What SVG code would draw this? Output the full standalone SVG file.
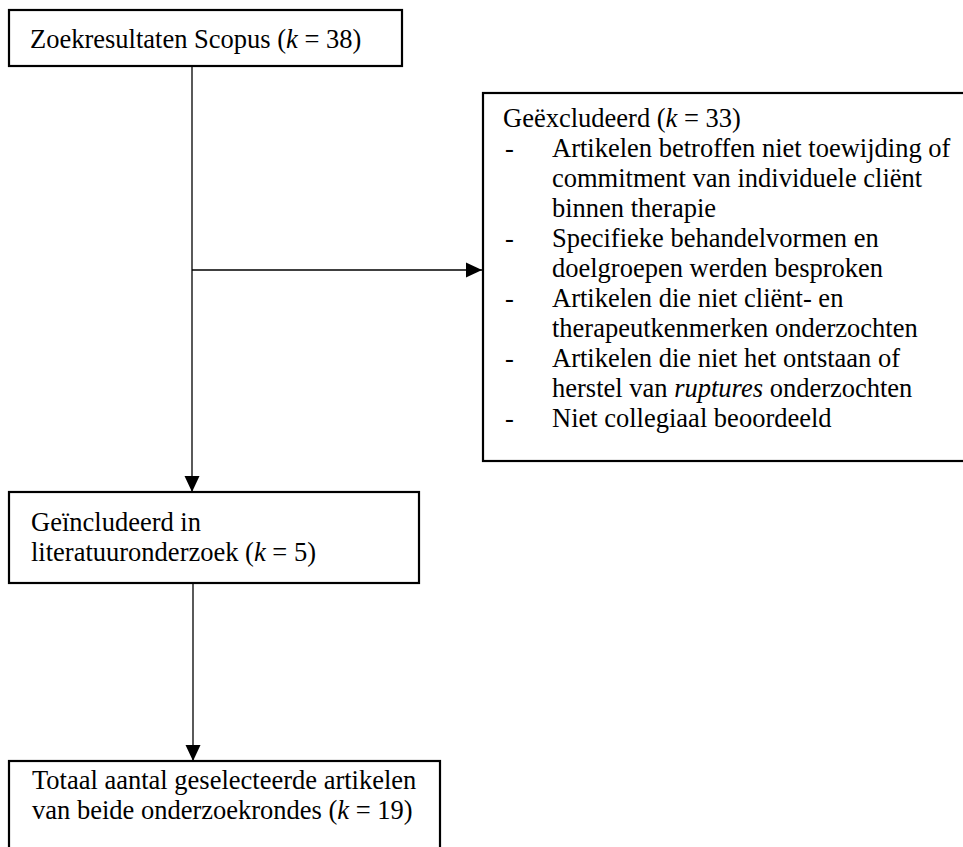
<svg xmlns="http://www.w3.org/2000/svg" width="963" height="847" viewBox="0 0 963 847">
<style>
.box{fill:#fff;stroke:#000;stroke-width:2.2}
.t{font-family:"Liberation Serif","Times New Roman",serif;font-size:26.5px;fill:#000}
.i{font-style:italic}
.ln{stroke:#000;stroke-width:1.3;fill:none}
</style>
<defs>
<marker id="ah" markerUnits="userSpaceOnUse" markerWidth="16" markerHeight="16" viewBox="0 0 16 16" refX="16" refY="8" orient="auto">
<path d="M0,0.5 L16,8 L0,15.5 Z" fill="#000"/>
</marker>
</defs>
<g id="connectors">
<line class="ln" x1="192" y1="66" x2="192" y2="492" marker-end="url(#ah)"/>
<line class="ln" x1="192" y1="270" x2="482" y2="270" marker-end="url(#ah)"/>
<line class="ln" x1="193" y1="583" x2="193" y2="761" marker-end="url(#ah)"/>
</g>
<g id="scopus">
<rect class="box" x="9" y="10" width="393" height="56"/>
<text class="t" x="30" y="48">Zoekresultaten Scopus (<tspan class="i">k</tspan> = 38)</text>
</g>
<g id="excluded">
<rect class="box" x="483" y="93" width="490" height="368"/>
<text class="t" x="503" y="127">Geëxcludeerd (<tspan class="i">k</tspan> = 33)</text>
<text class="t" x="505" y="157">-</text>
<text class="t" x="552" y="157">Artikelen betroffen niet toewijding of</text>
<text class="t" x="552" y="187">commitment van individuele cliënt</text>
<text class="t" x="552" y="217">binnen therapie</text>
<text class="t" x="505" y="247">-</text>
<text class="t" x="552" y="247">Specifieke behandelvormen en</text>
<text class="t" x="552" y="277">doelgroepen werden besproken</text>
<text class="t" x="505" y="307">-</text>
<text class="t" x="552" y="307">Artikelen die niet cliënt- en</text>
<text class="t" x="552" y="337">therapeutkenmerken onderzochten</text>
<text class="t" x="505" y="367">-</text>
<text class="t" x="552" y="367">Artikelen die niet het ontstaan of</text>
<text class="t" x="552" y="397">herstel van <tspan class="i">ruptures</tspan> onderzochten</text>
<text class="t" x="505" y="427">-</text>
<text class="t" x="552" y="427">Niet collegiaal beoordeeld</text>
</g>
<g id="included">
<rect class="box" x="9" y="492" width="410" height="91"/>
<text class="t" x="31" y="531">Geïncludeerd in</text>
<text class="t" x="31" y="561">literatuuronderzoek (<tspan class="i">k</tspan> = 5)</text>
</g>
<g id="total">
<rect class="box" x="9" y="761" width="431" height="100"/>
<text class="t" x="32" y="789">Totaal aantal geselecteerde artikelen</text>
<text class="t" x="32" y="819">van beide onderzoekrondes (<tspan class="i">k</tspan> = 19)</text>
</g>
</svg>
